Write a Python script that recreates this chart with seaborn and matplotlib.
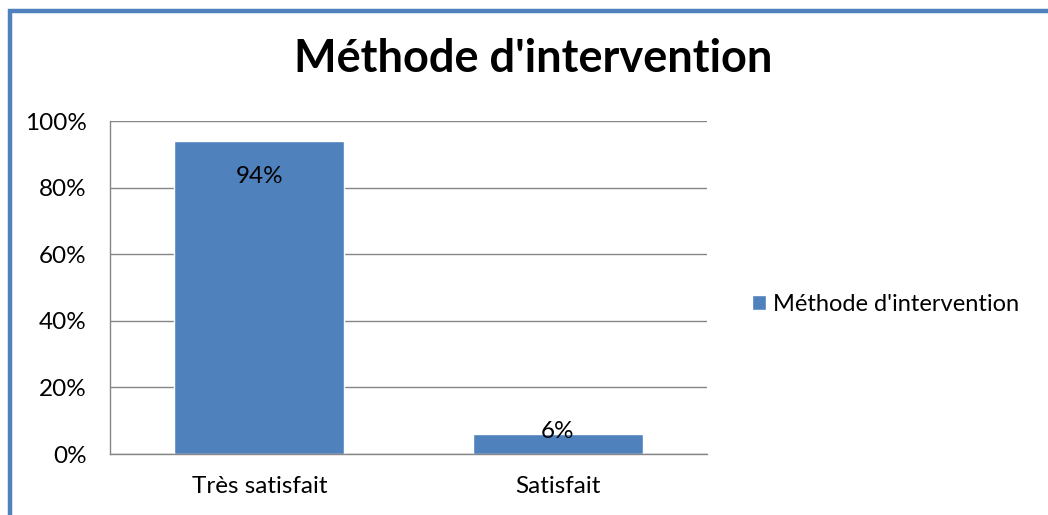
import pandas as pd
import matplotlib.pyplot as plt
import seaborn as sns
from matplotlib.patches import Rectangle
from matplotlib.ticker import PercentFormatter

categories = ["Très satisfait", "Satisfait"]
values = [94, 6]
series_name = "Méthode d'intervention"

df = pd.DataFrame({"Categorie": categories, "Pourcentage": values, "Serie": series_name})

sns.set_style("white")
plt.rcParams['font.family'] = ['Lato', 'DejaVu Sans']
plt.rcParams['text.color'] = 'black'

blue = "#4F81BD"
fig = plt.figure(figsize=(10.48, 5.15), dpi=100)
ax = fig.add_axes([0.105, 0.1184, 0.5697, 0.6466])

sns.barplot(data=df, x="Categorie", y="Pourcentage", hue="Serie",
            palette=[blue], width=0.57, ax=ax, saturation=1)

ax.set_ylim(0, 100)
ax.set_yticks([0, 20, 40, 60, 80, 100])
ax.yaxis.set_major_formatter(PercentFormatter(decimals=0))
ax.set_xlim(-0.5, 1.5)
ax.grid(axis='y', color='#868686', linewidth=1)
ax.set_axisbelow(True)
for s in ['top', 'right']:
    ax.spines[s].set_visible(False)
for s in ['left', 'bottom']:
    ax.spines[s].set_color('#868686')
    ax.spines[s].set_linewidth(1)
ax.tick_params(axis='both', length=0, labelsize=17.5, colors='black')
ax.tick_params(axis='x', pad=16)
ax.tick_params(axis='y', pad=17)
ax.set_xlabel("")
ax.set_ylabel("")

# data labels
for i, v in enumerate(values):
    if v > 50:
        ax.annotate(f"{v}%", (i, v), xytext=(0, -33), textcoords='offset points',
                    ha='center', va='bottom', fontsize=17.5)
    else:
        ax.annotate(f"{v}%", (i, v), xytext=(0, -6), textcoords='offset points',
                    ha='center', va='bottom', fontsize=17.5)

ax.legend(loc='center left', bbox_to_anchor=(1.04, 0.45), frameon=False,
          fontsize=17, handlelength=0.6, handleheight=0.6, handletextpad=0.3)

fig.text(0.509, 0.885, "Méthode d'intervention", ha='center', va='center',
         fontsize=32.5, fontweight='bold')

fig.patches.append(Rectangle((9.5 / 1048, -0.1), 1.2, 1.1 - 10.5 / 515,
                             transform=fig.transFigure, fill=False,
                             edgecolor=blue, linewidth=3.2))

fig.savefig("out.png", dpi=100)
